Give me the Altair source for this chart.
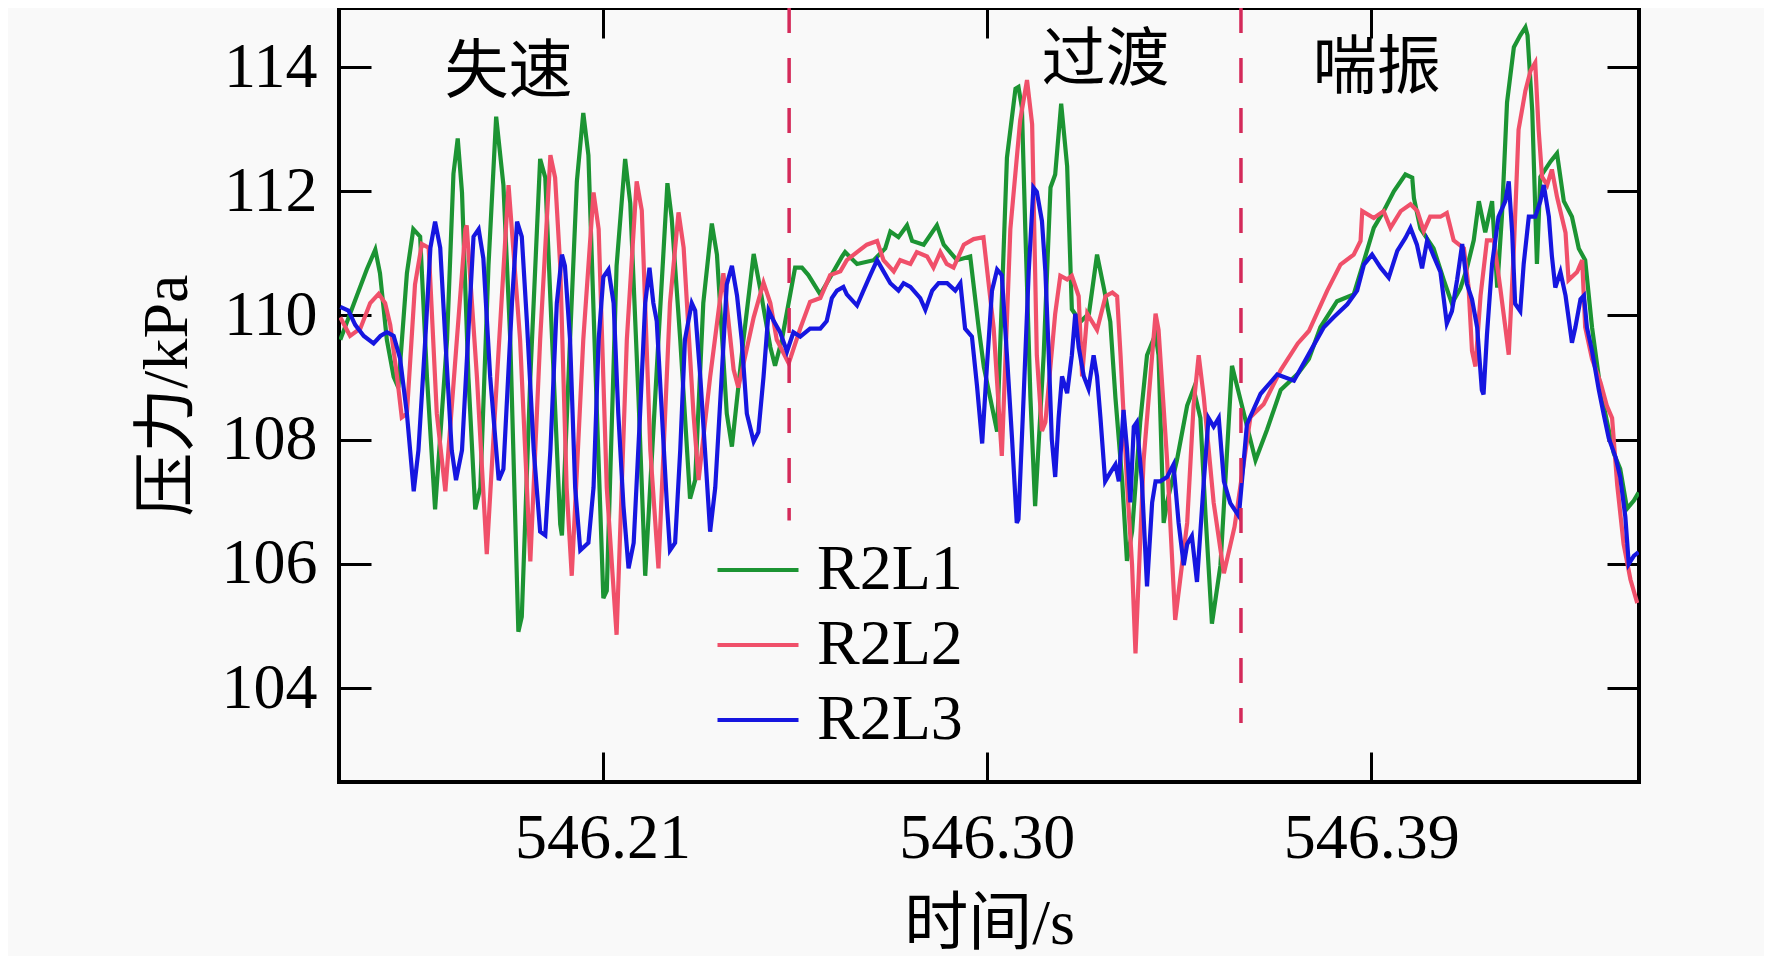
import altair as alt
import pandas as pd

# ---------------- values ----------------
series_names = ["R2L1", "R2L2", "R2L3"]
series_colors = ["#1c9433", "#f0506a", "#1616e0"]

# R2L1 (green): time [s], pressure [kPa]
g_t = [546.1486, 546.1525, 546.1548, 546.1568, 546.1579, 546.1595, 546.1611, 546.1622, 546.1642, 546.1657,
       546.1673, 546.1689, 546.1708, 546.1736, 546.1751, 546.1761, 546.1771, 546.1786, 546.1802, 546.1814,
       546.1833, 546.1851, 546.1868, 546.1884, 546.1903, 546.1911, 546.1931, 546.1954, 546.1966, 546.1982,
       546.2001, 546.2005, 546.2024, 546.2040, 546.2055, 546.2067, 546.2087, 546.2102, 546.2110, 546.2133,
       546.2153, 546.2165, 546.2184, 546.2200, 546.2231, 546.2252, 546.2262, 546.2282, 546.2305, 546.2317,
       546.2336, 546.2356, 546.2368, 546.2391, 546.2403, 546.2430, 546.2454, 546.2469, 546.2493, 546.2504,
       546.2520, 546.2551, 546.2567, 546.2582, 546.2610, 546.2625, 546.2661, 546.2668, 546.2696, 546.2735,
       546.2762, 546.2774, 546.2793, 546.2813, 546.2825, 546.2852, 546.2883, 546.2899, 546.2930, 546.2961,
       546.2981, 546.2993, 546.3024, 546.3047, 546.3067, 546.3074, 546.3082, 546.3090, 546.3102, 546.3113,
       546.3133, 546.3149, 546.3160, 546.3174, 546.3188, 546.3199, 546.3219, 546.3239, 546.3258, 546.3274,
       546.3289, 546.3301, 546.3317, 546.3328, 546.3340, 546.3359, 546.3375, 546.3395, 546.3402, 546.3414,
       546.3422, 546.3445, 546.3469, 546.3484, 546.3500, 546.3512, 546.3527, 546.3547, 546.3574, 546.3629,
       546.3656, 546.3688, 546.3728, 546.3754, 546.3781, 546.3820, 546.3859, 546.3883, 546.3906, 546.3929,
       546.3953, 546.3980, 546.3996, 546.4000, 546.4015, 546.4046, 546.4070, 546.4089, 546.4109, 546.4124,
       546.4140, 546.4152, 546.4167, 546.4183, 546.4195, 546.4206, 546.4218, 546.4234, 546.4249, 546.4261,
       546.4266, 546.4277, 546.4288, 546.4296, 546.4320, 546.4335, 546.4351, 546.4370, 546.4386, 546.4401,
       546.4417, 546.4437, 546.4452, 546.4468, 546.4483, 546.4499, 546.4515, 546.4526]
g_v = [109.61, 110.32, 110.74, 111.06, 110.68, 109.61, 109.01, 108.84, 110.68, 111.39,
       111.27, 109.01, 106.88, 109.61, 112.28, 112.85, 111.98, 109.01, 106.88, 107.23,
       110.80, 113.20, 112.10, 109.61, 104.91, 105.15, 109.01, 112.52, 112.22, 109.61,
       106.64, 106.46, 109.61, 112.16, 113.26, 112.58, 108.42, 105.45, 105.57, 110.80,
       112.52, 111.81, 108.72, 105.81, 109.61, 112.13, 111.57, 109.61, 107.05, 107.35,
       110.20, 111.48, 110.98, 108.42, 107.89, 109.61, 110.99, 110.44, 109.49, 109.19,
       109.61, 110.77, 110.77, 110.65, 110.34, 110.52, 110.95, 111.02, 110.83, 110.89,
       111.08, 111.35, 111.26, 111.45, 111.20, 111.14, 111.45, 111.14, 110.89, 110.95,
       109.79, 109.17, 108.13, 112.54, 113.65, 113.68, 113.35, 111.39, 108.68, 106.93,
       109.36, 112.06, 112.27, 113.41, 112.40, 110.10, 109.90, 110.03, 110.98, 110.44,
       109.90, 108.68, 107.33, 106.05, 106.52, 108.28, 109.36, 109.70, 109.36, 106.66,
       106.99, 107.67, 108.55, 108.82, 108.35, 106.79, 105.04, 105.98, 109.19, 107.67,
       108.16, 108.80, 109.06, 109.30, 109.81, 110.23, 110.34, 110.88, 111.41, 111.68,
       112.00, 112.27, 112.22, 111.89, 111.40, 111.08, 110.57, 110.19, 110.44, 110.76,
       111.21, 111.84, 111.34, 111.84, 110.45, 111.59, 113.43, 114.32, 114.51, 114.64,
       114.51, 113.30, 110.83, 112.23, 112.48, 112.61, 111.84, 111.59, 111.08, 110.89,
       109.81, 108.80, 108.29, 107.78, 107.53, 106.89, 107.02, 107.15]

# R2L2 (red)
r_t = [546.1486, 546.1509, 546.1533, 546.1556, 546.1576, 546.1591, 546.1603, 546.1619, 546.1630, 546.1642,
       546.1661, 546.1677, 546.1693, 546.1712, 546.1732, 546.1759, 546.1779, 546.1782, 546.1806, 546.1829,
       546.1853, 546.1880, 546.1907, 546.1931, 546.1954, 546.1978, 546.1989, 546.2001, 546.2016, 546.2028,
       546.2055, 546.2079, 546.2091, 546.2110, 546.2133, 546.2157, 546.2180, 546.2192, 546.2212, 546.2231,
       546.2258, 546.2278, 546.2290, 546.2313, 546.2325, 546.2352, 546.2383, 546.2407, 546.2418, 546.2454,
       546.2477, 546.2493, 546.2508, 546.2536, 546.2563, 546.2586, 546.2610, 546.2633, 546.2657, 546.2672,
       546.2696, 546.2719, 546.2743, 546.2758, 546.2782, 546.2797, 546.2821, 546.2836, 546.2860, 546.2875,
       546.2891, 546.2906, 546.2922, 546.2946, 546.2969, 546.2992, 546.3016, 546.3035, 546.3055, 546.3078,
       546.3094, 546.3106, 546.3117, 546.3129, 546.3137, 546.3160, 546.3172, 546.3188, 546.3199, 546.3215,
       546.3223, 546.3235, 546.3258, 546.3278, 546.3294, 546.3305, 546.3313, 546.3328, 546.3340, 546.3348,
       546.3367, 546.3379, 546.3395, 546.3402, 546.3422, 546.3441, 546.3469, 546.3484, 546.3496, 546.3508,
       546.3531, 546.3555, 546.3580, 546.3617, 546.3648, 546.3688, 546.3728, 546.3754, 546.3797, 546.3828,
       546.3859, 546.3875, 546.3879, 546.3906, 546.3929, 546.3945, 546.3969, 546.3992, 546.4008, 546.4023,
       546.4038, 546.4062, 546.4077, 546.4093, 546.4117, 546.4128, 546.4136, 546.4144, 546.4156, 546.4171,
       546.4187, 546.4202, 546.4214, 546.4222, 546.4234, 546.4245, 546.4261, 546.4273, 546.4284, 546.4292,
       546.4300, 546.4312, 546.4323, 546.4335, 546.4355, 546.4362, 546.4382, 546.4394, 546.4401, 546.4417,
       546.4437, 546.4452, 546.4464, 546.4476, 546.4491, 546.4507, 546.4523]
r_v = [109.97, 109.67, 109.79, 110.20, 110.35, 110.20, 109.85, 109.01, 108.36, 108.42,
       110.50, 111.15, 111.09, 108.42, 107.17, 109.61, 111.39, 111.45, 109.01, 106.16,
       109.01, 112.10, 109.61, 106.04, 109.61, 112.58, 112.22, 110.80, 107.23, 105.81,
       109.61, 111.98, 111.39, 107.23, 104.86, 109.61, 112.16, 111.69, 107.83, 105.93,
       110.20, 111.66, 111.09, 108.42, 107.35, 109.01, 110.68, 109.13, 108.84, 109.97,
       110.53, 110.20, 109.61, 109.23, 109.79, 110.22, 110.28, 110.65, 110.71, 110.89,
       111.02, 111.14, 111.20, 110.89, 110.71, 110.89, 110.83, 111.02, 110.95, 110.77,
       111.02, 110.83, 110.77, 111.14, 111.23, 111.26, 109.79, 107.74, 111.39, 113.14,
       113.79, 113.08, 109.36, 108.14, 108.28, 110.03, 110.64, 110.58, 110.64, 110.31,
       109.02, 110.03, 109.77, 110.31, 110.37, 110.31, 109.36, 107.33, 105.98, 104.56,
       107.67, 108.68, 110.03, 109.77, 107.67, 105.10, 106.66, 108.55, 109.36, 108.68,
       106.99, 105.85, 106.60, 108.36, 108.57, 109.12, 109.55, 109.75, 110.40, 110.82,
       110.98, 111.20, 111.68, 111.57, 111.68, 111.41, 111.68, 111.79, 111.68, 111.36,
       111.59, 111.59, 111.65, 111.21, 111.08, 110.45, 109.43, 109.18, 110.32, 111.21,
       111.21, 110.45, 109.81, 109.37, 111.08, 112.99, 113.62, 113.94, 114.07, 112.99,
       112.23, 112.10, 112.35, 111.91, 111.33, 110.57, 110.70, 110.89, 109.81, 109.30,
       108.92, 108.54, 108.35, 107.27, 106.32, 105.75, 105.37]

# R2L3 (blue)
b_t = [546.1486, 546.1505, 546.1521, 546.1541, 546.1564, 546.1580, 546.1595, 546.1611, 546.1626, 546.1642,
       546.1658, 546.1669, 546.1685, 546.1697, 546.1708, 546.1720, 546.1732, 546.1747, 546.1757, 546.1771,
       546.1798, 546.1810, 546.1821, 546.1837, 546.1857, 546.1868, 546.1888, 546.1900, 546.1911, 546.1923,
       546.1939, 546.1954, 546.1966, 546.1978, 546.1993, 546.2005, 546.2012, 546.2024, 546.2036, 546.2048,
       546.2067, 546.2079, 546.2091, 546.2102, 546.2114, 546.2126, 546.2137, 546.2149, 546.2161, 546.2173,
       546.2188, 546.2200, 546.2210, 546.2219, 546.2227, 546.2239, 546.2251, 546.2258, 546.2270, 546.2282,
       546.2293, 546.2309, 546.2317, 546.2329, 546.2340, 546.2352, 546.2364, 546.2379, 546.2391, 546.2403,
       546.2415, 546.2426, 546.2438, 546.2454, 546.2465, 546.2477, 546.2489, 546.2501, 546.2516, 546.2532,
       546.2547, 546.2563, 546.2586, 546.2610, 546.2625, 546.2637, 546.2649, 546.2664, 546.2672, 546.2696,
       546.2711, 546.2727, 546.2743, 546.2758, 546.2774, 546.2793, 546.2805, 546.2821, 546.2844, 546.2856,
       546.2872, 546.2887, 546.2907, 546.2926, 546.2938, 546.2949, 546.2965, 546.2977, 546.2989, 546.3000,
       546.3012, 546.3024, 546.3035, 546.3047, 546.3059, 546.3070, 546.3074, 546.3086, 546.3098, 546.3109,
       546.3117, 546.3129, 546.3137, 546.3145, 546.3152, 546.3160, 546.3168, 546.3176, 546.3188, 546.3199,
       546.3207, 546.3215, 546.3227, 546.3238, 546.3250, 546.3258, 546.3266, 546.3277, 546.3289, 546.3301,
       546.3309, 546.3320, 546.3328, 546.3336, 546.3344, 546.3351, 546.3363, 546.3375, 546.3387, 546.3395,
       546.3406, 546.3422, 546.3437, 546.3449, 546.3461, 546.3469, 546.3480, 546.3492, 546.3508, 546.3519,
       546.3531, 546.3543, 546.3555, 546.3570, 546.3590, 546.3609, 546.3641, 546.3680, 546.3719, 546.3758,
       546.3789, 546.3812, 546.3844, 546.3867, 546.3883, 546.3902, 546.3922, 546.3941, 546.3961, 546.3980,
       546.3992, 546.4007, 546.4019, 546.4031, 546.4046, 546.4062, 546.4077, 546.4089, 546.4101, 546.4113,
       546.4124, 546.4136, 546.4148, 546.4159, 546.4163, 546.4171, 546.4183, 546.4198, 546.4214, 546.4222,
       546.4230, 546.4237, 546.4249, 546.4257, 546.4269, 546.4284, 546.4296, 546.4304, 546.4316, 546.4323,
       546.4331, 546.4343, 546.4355, 546.4370, 546.4378, 546.4390, 546.4398, 546.4405, 546.4417, 546.4433,
       546.4444, 546.4456, 546.4472, 546.4483, 546.4495, 546.4503, 546.4515, 546.4526]
b_v = [110.14, 110.08, 109.85, 109.67, 109.55, 109.67, 109.73, 109.67, 109.31, 108.42,
       107.17, 107.83, 109.61, 111.09, 111.51, 111.09, 109.61, 107.83, 107.35, 107.83,
       111.27, 111.39, 110.92, 109.01, 107.35, 107.53, 110.20, 111.51, 111.27, 109.90,
       107.83, 106.52, 106.46, 107.83, 110.20, 110.98, 110.80, 109.61, 107.23, 106.22,
       106.34, 107.23, 109.61, 110.62, 110.74, 110.20, 108.42, 106.94, 105.93, 106.34,
       108.42, 110.20, 110.77, 110.20, 109.91, 108.42, 106.94, 106.22, 106.34, 107.83,
       109.61, 110.20, 110.08, 109.01, 107.83, 106.52, 107.23, 109.01, 110.50, 110.80,
       110.32, 109.61, 108.42, 107.97, 108.12, 109.01, 110.08, 109.91, 109.73, 109.42,
       109.73, 109.66, 109.79, 109.79, 109.91, 110.28, 110.40, 110.46, 110.34, 110.16,
       110.40, 110.65, 110.89, 110.71, 110.52, 110.40, 110.52, 110.46, 110.28, 110.09,
       110.40, 110.52, 110.52, 110.40, 110.52, 109.79, 109.66, 108.86, 107.94, 109.17,
       110.40, 110.74, 110.65, 109.36, 108.01, 106.66, 106.72, 108.68, 110.71, 112.06,
       111.99, 111.52, 110.71, 109.36, 108.01, 107.40, 108.35, 109.02, 108.75, 109.36,
       110.03, 109.49, 109.02, 108.82, 109.36, 109.02, 108.35, 107.33, 107.47, 107.60,
       107.33, 108.48, 107.87, 106.99, 108.21, 108.28, 107.33, 105.64, 106.99, 107.33,
       107.33, 107.40, 107.60, 106.66, 105.98, 106.32, 106.45, 105.71, 107.33, 108.35,
       108.21, 108.35, 107.33, 106.98, 106.77, 108.25, 108.74, 109.05, 108.95, 109.43,
       109.81, 109.97, 110.18, 110.40, 110.82, 110.98, 110.77, 110.61, 111.04, 111.25,
       111.41, 111.14, 110.76, 111.21, 110.96, 110.70, 109.87, 110.07, 110.57, 111.15,
       110.51, 110.26, 109.81, 108.80, 108.73, 109.69, 110.83, 111.59, 111.84, 112.16,
       111.34, 110.19, 110.07, 110.83, 111.59, 111.59, 111.84, 112.10, 111.59, 110.96,
       110.45, 110.70, 110.32, 109.56, 109.81, 110.26, 110.32, 109.81, 109.43, 108.80,
       108.42, 108.03, 107.72, 107.40, 106.76, 106.00, 106.13, 106.19]

# phase dividers (dashed lines) and phase names
divider_t = [546.2537, 546.3595]
divider_end = [106.70, 103.44]
phase_labels = ["失速", "过渡", "喘振"]
phase_t = [546.1880, 546.3278, 546.3913]
phase_p = [113.91, 114.10, 113.96]

x_ticks = [546.21, 546.30, 546.39]
y_ticks = [104, 106, 108, 110, 112, 114]
x_domain = [546.1483, 546.4527]
y_domain = [102.49, 114.95]

# ---------------- tables ----------------
rows = []
for name, ts, vs in zip(series_names, [g_t, r_t, b_t], [g_v, r_v, b_v]):
    for t, v in zip(ts, vs):
        rows.append({"series": name, "t": t, "p": v})
df = pd.DataFrame(rows)

div_df = pd.DataFrame({"t": divider_t, "top": [y_domain[1]] * len(divider_t), "end": divider_end})
txt_df = pd.DataFrame({"label": phase_labels, "t": phase_t, "p": phase_p})

SERIF = "Liberation Serif"
MIXED = "Liberation Serif, Noto Sans CJK SC"
CJK = "Noto Sans CJK SC"
FS = 64

x_scale = alt.Scale(domain=x_domain, nice=False, zero=False)
y_scale = alt.Scale(domain=y_domain, nice=False, zero=False)

bottom_axis = alt.Axis(orient="bottom", values=x_ticks, format=".2f", title="时间/s",
                       offset=-30, tickSize=30, tickWidth=3, tickColor="black",
                       domain=False, grid=False, labelFont=SERIF, labelFontSize=FS,
                       labelColor="black", labelPadding=24, labelFlush=False, labelOverlap=False,
                       titleFont=MIXED, titleFontSize=FS, titleFontWeight="normal",
                       titleColor="black", titlePadding=22)
left_axis = alt.Axis(orient="left", values=y_ticks, format="d", title="压力/kPa",
                     offset=-32, tickSize=32, tickWidth=3, tickColor="black",
                     domain=False, grid=False, labelFont=SERIF, labelFontSize=FS,
                     labelColor="black", labelPadding=22, labelFlush=False, labelOverlap=False,
                     titleFont=MIXED, titleFontSize=FS, titleFontWeight="normal",
                     titleColor="black", titlePadding=22)
top_axis = alt.Axis(orient="top", values=x_ticks, labels=False, title=None,
                    offset=-30, tickSize=30, tickWidth=3, tickColor="black",
                    domain=False, grid=False)
right_axis = alt.Axis(orient="right", values=y_ticks, labels=False, title=None,
                      offset=-32, tickSize=32, tickWidth=3, tickColor="black",
                      domain=False, grid=False)

lines = alt.Chart(df).mark_line(strokeWidth=4.2, clip=True).encode(
    x=alt.X("t:Q", scale=x_scale, axis=bottom_axis),
    y=alt.Y("p:Q", scale=y_scale, axis=left_axis),
    color=alt.Color("series:N",
                    scale=alt.Scale(domain=series_names, range=series_colors),
                    legend=alt.Legend(orient="none", legendX=376, legendY=519, title=None,
                                      symbolType="stroke", symbolSize=6561, symbolStrokeWidth=4.2,
                                      labelFont=SERIF, labelFontSize=FS, labelColor="black",
                                      labelOffset=16, rowPadding=0, padding=0)),
)

dividers = alt.Chart(div_df).mark_rule(color="#d42a5a", strokeWidth=3.5, strokeDash=[25, 25]).encode(
    x=alt.X("t:Q", scale=x_scale, axis=top_axis),
    y=alt.Y("top:Q", scale=y_scale, axis=right_axis),
    y2="end:Q",
)

phases = alt.Chart(txt_df).mark_text(font=CJK, fontSize=FS, color="black",
                                     align="center", baseline="middle").encode(
    x=alt.X("t:Q", scale=x_scale, axis=None),
    y=alt.Y("p:Q", scale=y_scale, axis=None),
    text="label:N",
)

chart = alt.layer(lines, dividers, phases).resolve_scale(
    x="shared", y="shared"
).resolve_axis(
    x="independent", y="independent"
).properties(
    width=1300, height=774,
    padding={"left": 331, "top": 0, "right": 125, "bottom": 174},
    autosize=alt.AutoSizeParams(type="none"),
).configure(
    background="#f9f9f9"
).configure_view(
    stroke="black", strokeWidth=4
)

chart.save("out.html", embed_options={"renderer": "svg", "actions": False})
